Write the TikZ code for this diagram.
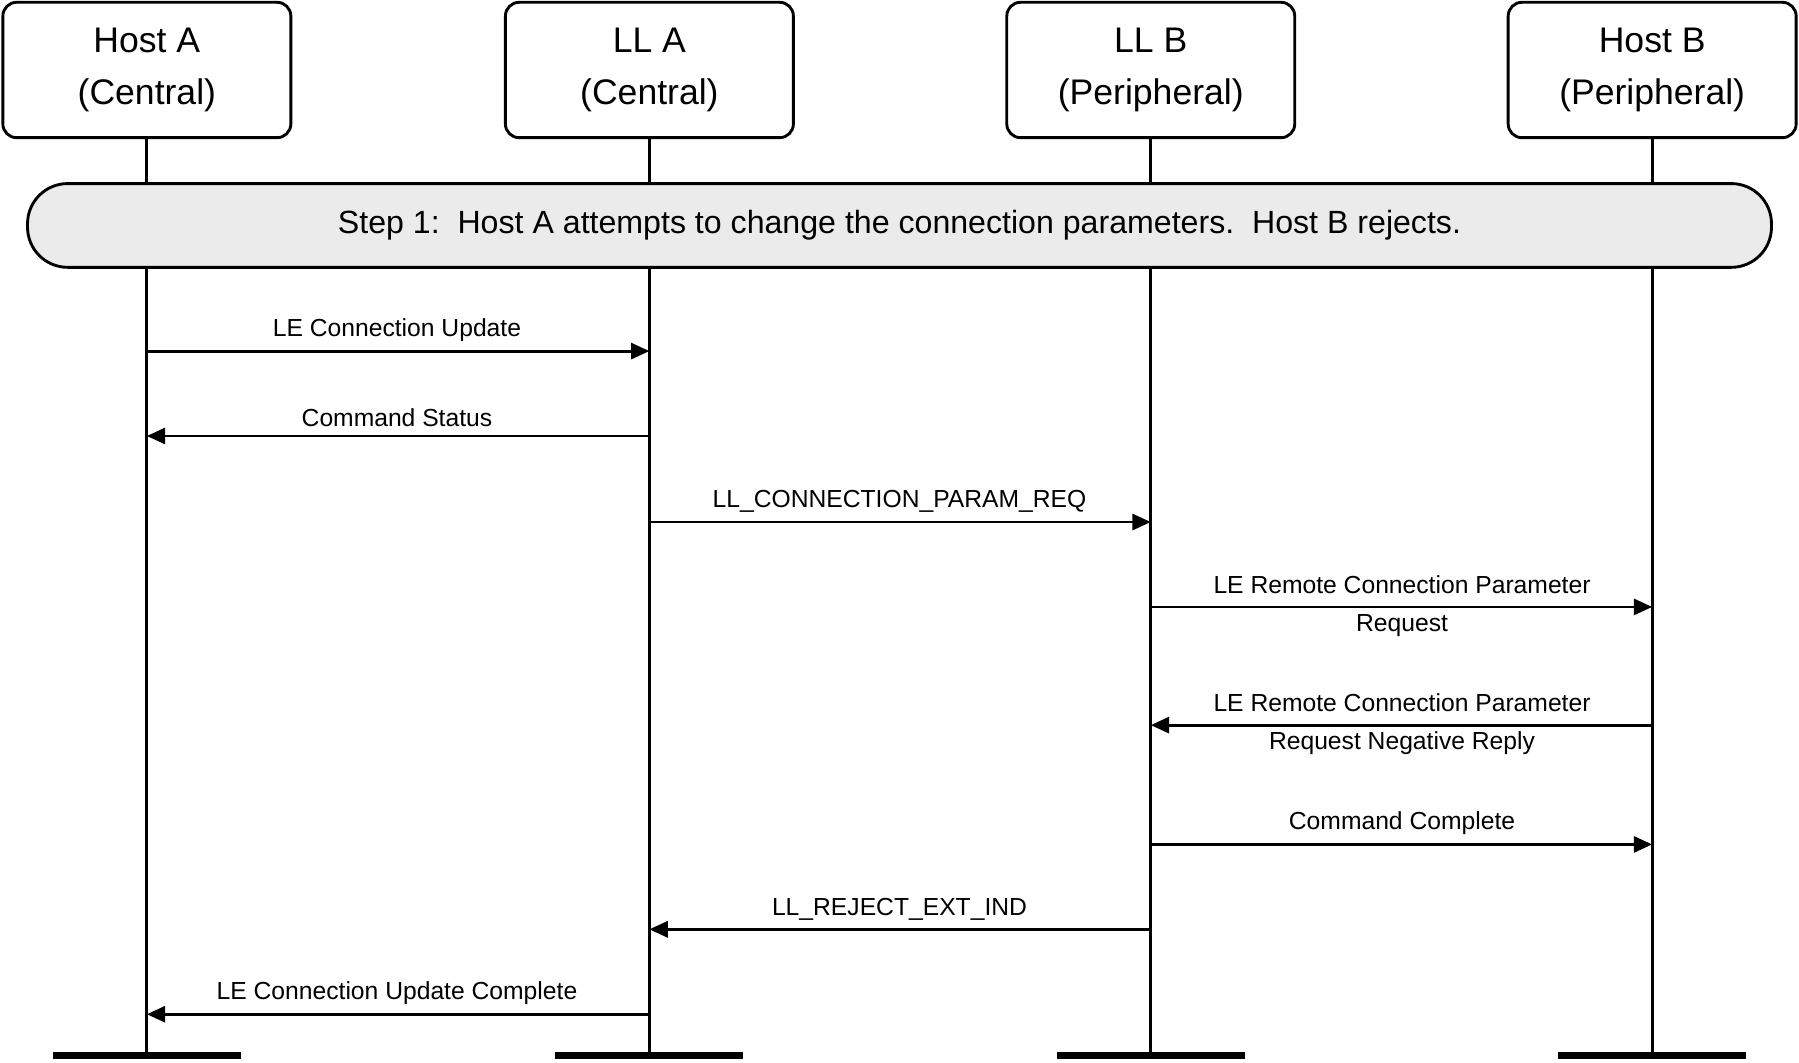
\documentclass[tikz,border=0pt]{standalone}
\usepackage{fontspec}
\setmainfont{Liberation Sans}
\usetikzlibrary{arrows.meta}
\begin{document}
\begin{tikzpicture}[x=1pt,y=-1pt,
  hdr/.style={draw,line width=2.5pt,rounded corners=12pt,minimum width=251pt,minimum height=118pt,align=center,font=\fontsize{31}{45}\selectfont,inner sep=0pt},
  life/.style={line width=2.5pt},
  bar/.style={line width=6pt},
  msg/.style={line width=2.5pt,-{Triangle[length=16pt,width=14pt]}},
  lbl/.style={font=\fontsize{21.5}{33}\selectfont,inner sep=0pt,align=center}]
\useasboundingbox (0,0) rectangle (1568,926);
\node[hdr] (ha) at (128,61) {Host A\\(Central)};
\node[hdr] (la) at (566,61) {LL A\\(Central)};
\node[hdr] (lb) at (1003,61) {LL B\\(Peripheral)};
\node[hdr] (hb) at (1440,61) {Host B\\(Peripheral)};
\foreach \n/\x in {ha/128,la/566,lb/1003,hb/1440}{
  \coordinate (\n e) at (\x,920);
  \coordinate (\n l) at (\x-82,920);
  \coordinate (\n r) at (\x+82,920);
  \draw[life] (\n.south) -- (\n e);
  \draw[bar] (\n l) -- (\n r);
}
\node[draw,line width=2.5pt,fill=black!8,rounded corners=35pt,minimum width=1520pt,minimum height=73pt,font=\fontsize{28}{34}\selectfont] (step) at (784,196.5) {Step 1:\ \ Host A attempts to change the connection parameters.\ \ Host B rejects.};
\foreach \a/\b/\y/\name in {ha/la/306/m1,la/ha/380/m2,la/lb/455/m3,lb/hb/529/m4,hb/lb/632/m5,lb/hb/736/m6,lb/la/810/m7,la/ha/884/m8}{
  \coordinate (\name s) at (\a e |- 0,\y);
  \coordinate (\name t) at (\b e |- 0,\y);
  \draw[msg] (\name s) -- (\name t);
}
\node[lbl,anchor=south] (t1) at (346,298) {LE Connection Update};
\node[lbl,anchor=south] (t2) at (346,372) {Command Status};
\node[lbl,anchor=south] (t3) at (784,447) {LL\_CONNECTION\_PARAM\_REQ};
\node[lbl] (t4) at (1222,528) {LE Remote Connection Parameter\\Request};
\node[lbl] (t5) at (1222,631) {LE Remote Connection Parameter\\Request Negative Reply};
\node[lbl,anchor=south] (t6) at (1222,728) {Command Complete};
\node[lbl,anchor=south] (t7) at (784,802) {LL\_REJECT\_EXT\_IND};
\node[lbl,anchor=south] (t8) at (346,876) {LE Connection Update Complete};
\end{tikzpicture}
\end{document}
